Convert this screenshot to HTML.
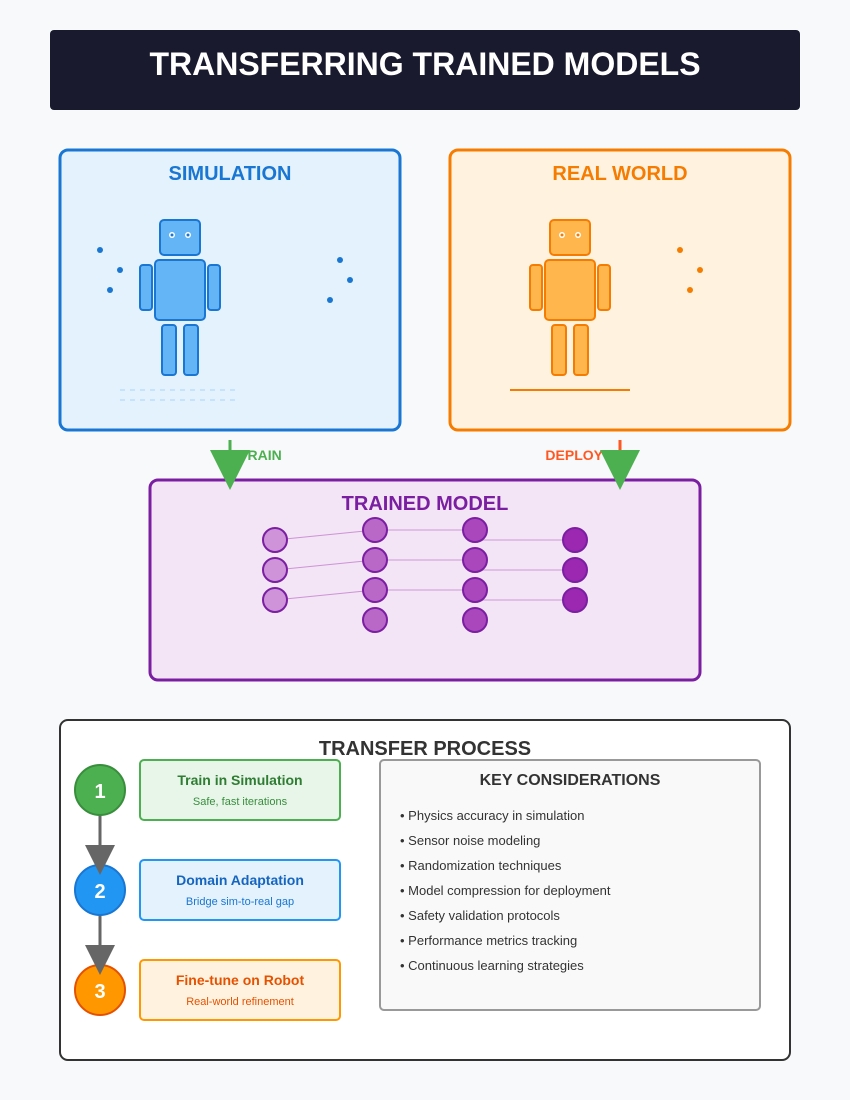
<!DOCTYPE html>
<html><head><meta charset="utf-8"><style>
html,body{margin:0;padding:0;background:#f8f9fa;}
svg{display:block;font-family:"Liberation Sans",Arial,sans-serif;}
</style></head><body>
<svg width="850" height="1100" viewBox="0 0 850 1100" xmlns="http://www.w3.org/2000/svg">
<rect width="850" height="1100" fill="#f8f9fa"/>
<rect x="50" y="30" width="750" height="80" rx="4" fill="#1a1a2e"/>
<text x="425" y="75" text-anchor="middle" font-size="32" font-weight="bold" fill="#fff">TRANSFERRING TRAINED MODELS</text>

<!-- Simulation -->
<rect x="60" y="150" width="340" height="280" rx="8" fill="#e3f2fd" stroke="#1976d2" stroke-width="3"/>
<text x="230" y="180" text-anchor="middle" font-size="20" font-weight="bold" fill="#1976d2">SIMULATION</text>
<g fill="#64b5f6" stroke="#1976d2" stroke-width="2">
<rect x="160" y="220" width="40" height="35" rx="4"/>
<rect x="155" y="260" width="50" height="60" rx="4"/>
<rect x="140" y="265" width="12" height="45" rx="3"/>
<rect x="208" y="265" width="12" height="45" rx="3"/>
<rect x="162" y="325" width="14" height="50" rx="3"/>
<rect x="184" y="325" width="14" height="50" rx="3"/>
</g>
<circle cx="172" cy="235" r="3" fill="#fff"/><circle cx="188" cy="235" r="3" fill="#fff"/>
<circle cx="172" cy="235" r="1.5" fill="#1976d2"/><circle cx="188" cy="235" r="1.5" fill="#1976d2"/>
<g fill="#1976d2"><circle cx="100" cy="250" r="3"/><circle cx="120" cy="270" r="3"/><circle cx="110" cy="290" r="3"/><circle cx="340" cy="260" r="3"/><circle cx="350" cy="280" r="3"/><circle cx="330" cy="300" r="3"/></g>
<g stroke="#bbdefb" stroke-width="1.5" stroke-dasharray="5,5"><line x1="120" y1="390" x2="235" y2="390"/><line x1="120" y1="400" x2="235" y2="400"/></g>

<!-- Real world -->
<rect x="450" y="150" width="340" height="280" rx="8" fill="#fff3e0" stroke="#f57c00" stroke-width="3"/>
<text x="620" y="180" text-anchor="middle" font-size="20" font-weight="bold" fill="#f57c00">REAL WORLD</text>
<g fill="#ffb74d" stroke="#f57c00" stroke-width="2">
<rect x="550" y="220" width="40" height="35" rx="4"/>
<rect x="545" y="260" width="50" height="60" rx="4"/>
<rect x="530" y="265" width="12" height="45" rx="3"/>
<rect x="598" y="265" width="12" height="45" rx="3"/>
<rect x="552" y="325" width="14" height="50" rx="3"/>
<rect x="574" y="325" width="14" height="50" rx="3"/>
</g>
<circle cx="562" cy="235" r="3" fill="#fff"/><circle cx="578" cy="235" r="3" fill="#fff"/>
<circle cx="562" cy="235" r="1.5" fill="#f57c00"/><circle cx="578" cy="235" r="1.5" fill="#f57c00"/>
<g fill="#f57c00"><circle cx="680" cy="250" r="3"/><circle cx="700" cy="270" r="3"/><circle cx="690" cy="290" r="3"/></g>
<line x1="510" y1="390" x2="630" y2="390" stroke="#f57c00" stroke-width="2"/>

<!-- Trained model -->
<rect x="150" y="480" width="550" height="200" rx="8" fill="#f3e5f5" stroke="#7b1fa2" stroke-width="3"/>
<text x="425" y="510" text-anchor="middle" font-size="20" font-weight="bold" fill="#7b1fa2">TRAINED MODEL</text>
<g stroke="#ce93d8" stroke-width="1"><line x1="275" y1="540" x2="375" y2="530"/><line x1="275" y1="570" x2="375" y2="560"/><line x1="275" y1="600" x2="375" y2="590"/></g>
<g stroke="#e1bee7" stroke-width="2"><line x1="375" y1="530" x2="475" y2="530"/><line x1="375" y1="560" x2="475" y2="560"/><line x1="375" y1="590" x2="475" y2="590"/><line x1="475" y1="540" x2="575" y2="540"/><line x1="475" y1="570" x2="575" y2="570"/><line x1="475" y1="600" x2="575" y2="600"/></g>
<g stroke="#7b1fa2" stroke-width="2">
<g fill="#ce93d8"><circle cx="275" cy="540" r="12"/><circle cx="275" cy="570" r="12"/><circle cx="275" cy="600" r="12"/></g>
<g fill="#ba68c8"><circle cx="375" cy="530" r="12"/><circle cx="375" cy="560" r="12"/><circle cx="375" cy="590" r="12"/><circle cx="375" cy="620" r="12"/></g>
<g fill="#ab47bc"><circle cx="475" cy="530" r="12"/><circle cx="475" cy="560" r="12"/><circle cx="475" cy="590" r="12"/><circle cx="475" cy="620" r="12"/></g>
<g fill="#9c27b0"><circle cx="575" cy="540" r="12"/><circle cx="575" cy="570" r="12"/><circle cx="575" cy="600" r="12"/></g>
</g>

<!-- arrows (drawn on top) -->
<text x="239" y="460" font-size="14" font-weight="bold" fill="#4caf50">TRAIN</text>
<line x1="230" y1="440" x2="230" y2="460" stroke="#4caf50" stroke-width="3"/>
<polygon points="210,450 250,450 230,490" fill="#4caf50"/>
<text x="603" y="460" text-anchor="end" font-size="14" font-weight="bold" fill="#ff5722">DEPLOY</text>
<line x1="620" y1="440" x2="620" y2="460" stroke="#ff5722" stroke-width="3"/>
<polygon points="600,450 640,450 620,490" fill="#4caf50"/>

<!-- Transfer process -->
<rect x="60" y="720" width="730" height="340" rx="8" fill="#fff" stroke="#333" stroke-width="2"/>
<text x="425" y="755" text-anchor="middle" font-size="20" font-weight="bold" fill="#333">TRANSFER PROCESS</text>
<g stroke="#666" stroke-width="3"><line x1="100" y1="815" x2="100" y2="850"/><line x1="100" y1="915" x2="100" y2="950"/></g>
<circle cx="100" cy="790" r="25" fill="#4caf50" stroke="#388e3c" stroke-width="2"/>
<circle cx="100" cy="890" r="25" fill="#2196f3" stroke="#1976d2" stroke-width="2"/>
<circle cx="100" cy="990" r="25" fill="#ff9800" stroke="#e65100" stroke-width="2"/>
<polygon points="85,845 115,845 100,875" fill="#666"/>
<polygon points="85,945 115,945 100,975" fill="#666"/>
<g font-size="20" font-weight="bold" fill="#fff" text-anchor="middle"><text x="100" y="798">1</text><text x="100" y="898">2</text><text x="100" y="998">3</text></g>

<rect x="140" y="760" width="200" height="60" rx="4" fill="#e8f5e9" stroke="#4caf50" stroke-width="2"/>
<text x="240" y="785" text-anchor="middle" font-size="14" font-weight="bold" fill="#2e7d32">Train in Simulation</text>
<text x="240" y="805" text-anchor="middle" font-size="11" fill="#388e3c">Safe, fast iterations</text>
<rect x="140" y="860" width="200" height="60" rx="4" fill="#e3f2fd" stroke="#2196f3" stroke-width="2"/>
<text x="240" y="885" text-anchor="middle" font-size="14" font-weight="bold" fill="#1565c0">Domain Adaptation</text>
<text x="240" y="905" text-anchor="middle" font-size="11" fill="#1976d2">Bridge sim-to-real gap</text>
<rect x="140" y="960" width="200" height="60" rx="4" fill="#fff3e0" stroke="#ff9800" stroke-width="2"/>
<text x="240" y="985" text-anchor="middle" font-size="14" font-weight="bold" fill="#e65100">Fine-tune on Robot</text>
<text x="240" y="1005" text-anchor="middle" font-size="11" fill="#e65100">Real-world refinement</text>

<rect x="380" y="760" width="380" height="250" rx="4" fill="#f9f9f9" stroke="#999" stroke-width="2"/>
<text x="570" y="785" text-anchor="middle" font-size="16" font-weight="bold" fill="#333">KEY CONSIDERATIONS</text>
<g font-size="13" fill="#333">
<text x="400" y="820">• Physics accuracy in simulation</text>
<text x="400" y="845">• Sensor noise modeling</text>
<text x="400" y="870">• Randomization techniques</text>
<text x="400" y="895">• Model compression for deployment</text>
<text x="400" y="920">• Safety validation protocols</text>
<text x="400" y="945">• Performance metrics tracking</text>
<text x="400" y="970">• Continuous learning strategies</text>
</g>
</svg>
</body></html>
